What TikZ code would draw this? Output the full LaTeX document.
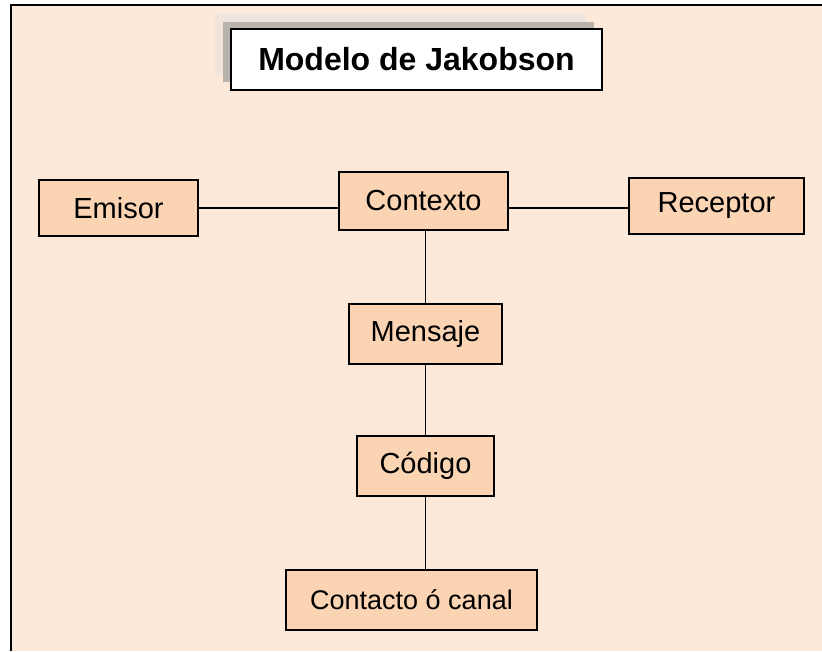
\documentclass[tikz,border=0pt]{standalone}
\usepackage{fontspec}
\setmainfont{Liberation Sans}
\definecolor{bgpeach}{HTML}{FDE9D9}
\definecolor{boxpeach}{HTML}{FBD4B4}
\definecolor{shadowlight}{HTML}{EFE5DC}
\definecolor{shadowdark}{HTML}{B8B3AD}
\tikzset{
  elem/.style={draw=black, line width=1.2pt, fill=boxpeach, rectangle, inner sep=0pt,
    font=\fontsize{29}{33}\selectfont},
  conn/.style={draw=black, line width=1.2pt},
  titlebox/.style={draw=black, line width=1.6pt, fill=white, rectangle, inner sep=0pt,
    minimum width=371pt, minimum height=61pt, font=\bfseries\fontsize{32}{36}\selectfont},
}
\begin{document}
\begin{tikzpicture}[x=1pt,y=-1pt]
\useasboundingbox (0,0) rectangle (822,651);
% background and frame
\fill[bgpeach] (11,5) rectangle (822,651);
\draw[line width=2pt] (11,651) -- (11,5) -- (822,5);
% title shadows
\fill[shadowlight] (215,14) rectangle (586,75);
\fill[shadowdark] (223,22) rectangle (594,82);
\node[titlebox] (title) at (416.5,59.5) {Modelo de Jakobson};
% elements
\node[elem, minimum width=159pt, minimum height=56pt] (emisor) at (118.5,208) {Emisor};
\node[elem, minimum width=169pt, minimum height=58pt] (contexto) at (423.5,201) {Contexto};
\node[elem, minimum width=175pt, minimum height=56pt] (receptor) at (716.5,206) {Receptor};
\node[elem, minimum width=153pt, minimum height=60pt] (mensaje) at (425.5,334) {Mensaje};
\node[elem, minimum width=137pt, minimum height=60pt] (codigo) at (425.5,466) {Código};
\node[elem, minimum width=251pt, minimum height=60pt, font=\fontsize{27}{31}\selectfont] (contacto) at (411.5,600) {Contacto ó canal};
% connectors
\draw[conn] (emisor.east) -- (emisor.east -| contexto.west);
\draw[conn] (emisor.east -| contexto.east) -- (emisor.east -| receptor.west);
\draw[conn] (mensaje.north |- contexto.south) -- (mensaje.north);
\draw[conn] (mensaje.south) -- (codigo.north);
\draw[conn] (codigo.south) -- (codigo.south |- contacto.north);
\end{tikzpicture}
\end{document}
